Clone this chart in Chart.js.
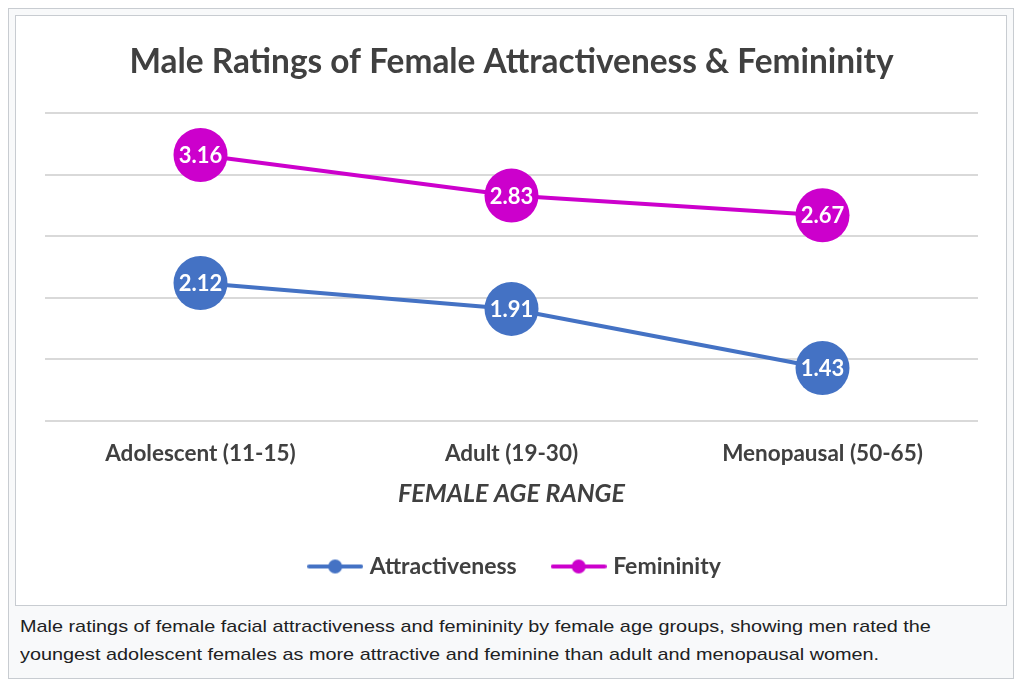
<!DOCTYPE html>
<html>
<head>
<meta charset="utf-8">
<script src="https://cdn.jsdelivr.net/npm/chart.js@4"></script>
<style>
    body { margin: 0; background: #ffffff; }
    #frame {
        position: absolute; left: 8px; top: 8px;
        width: 1004px; height: 669px;
        border: 1px solid #c8ccd1; background: #f8f9fa;
    }
    #box {
        position: absolute; left: 6px; top: 6px;
        width: 990px; height: 589px;
        border: 1px solid #c8ccd1; background: #ffffff;
    }
    #caption {
        position: absolute; left: 11px; top: 604px; width: 815px;
        font-family: "Liberation Sans", Arial, sans-serif;
        font-size: 17px; line-height: 28px; color: #202122;
        transform: scaleX(1.167); transform-origin: left top;
    }
</style>
</head>
<body>
<div id="frame">
    <div id="box"><canvas id="chart" width="990" height="589"></canvas></div>
    <div id="caption">Male ratings of female facial attractiveness and femininity by female age groups, showing men rated the youngest adolescent females as more attractive and feminine than adult and menopausal women.</div>
</div>
<script>
const ageGroups = ['Adolescent (11-15)', 'Adult (19-30)', 'Menopausal (50-65)'];
const attractiveness = [2.12, 1.91, 1.43];
const femininity = [3.16, 2.83, 2.67];

const blue = '#4472c4';
const magenta = '#cc00cc';
const textColor = '#404040';
const fontFamily = 'Lato, "Open Sans", sans-serif';

// legend marker: a short line with a dot in the middle
function legendMarker(color) {
    const c = document.createElement('canvas');
    c.width = 56;
    c.height = 16;
    const g = c.getContext('2d');
    g.strokeStyle = color;
    g.lineWidth = 4;
    g.lineCap = 'round';
    g.beginPath();
    g.moveTo(2, 8);
    g.lineTo(54, 8);
    g.stroke();
    g.fillStyle = color;
    g.beginPath();
    g.arc(28, 8, 7, 0, Math.PI * 2);
    g.fill();
    return c;
}

const valueLabels = {
    id: 'valueLabels',
    afterDatasetsDraw(chart) {
        const ctx = chart.ctx;
        ctx.save();
        ctx.fillStyle = '#ffffff';
        ctx.font = 'bold 22px ' + fontFamily;
        ctx.textAlign = 'center';
        ctx.textBaseline = 'middle';
        chart.data.datasets.forEach((ds, i) => {
            chart.getDatasetMeta(i).data.forEach((pt, j) => {
                ctx.fillText(ds.data[j].toFixed(2), pt.x, pt.y + 1);
            });
        });
        ctx.restore();
    }
};

// nudge the legend a little to the right, like the original
const legendShift = {
    id: 'legendShift',
    afterLayout(chart) {
        chart.legend.left += 5;
        chart.legend.right += 5;
    }
};

new Chart(document.getElementById('chart'), {
    type: 'line',
    data: {
        labels: ageGroups,
        datasets: [
            {
                label: 'Attractiveness',
                data: attractiveness,
                borderColor: blue,
                backgroundColor: blue,
                pointBackgroundColor: blue,
                borderWidth: 4,
                pointRadius: 27,
                pointHoverRadius: 27,
                pointBorderWidth: 0,
                clip: false
            },
            {
                label: 'Femininity',
                data: femininity,
                borderColor: magenta,
                backgroundColor: magenta,
                pointBackgroundColor: magenta,
                borderWidth: 4,
                pointRadius: 27,
                pointHoverRadius: 27,
                pointBorderWidth: 0,
                clip: false
            }
        ]
    },
    options: {
        responsive: false,
        animation: false,
        layout: { padding: { left: 29, right: 28, top: 26, bottom: 17 } },
        plugins: {
            title: {
                display: true,
                text: 'Male Ratings of Female Attractiveness & Femininity',
                color: textColor,
                font: { family: fontFamily, size: 33.4, weight: 'bold' },
                padding: { top: 0, bottom: 31 }
            },
            legend: {
                position: 'bottom',
                labels: {
                    usePointStyle: true,
                    pointStyleWidth: 46,
                    padding: 39,
                    color: textColor,
                    font: { family: fontFamily, size: 23, weight: 'bold' },
                    generateLabels(chart) {
                        return Chart.defaults.plugins.legend.labels.generateLabels(chart).map((item, i) => {
                            item.pointStyle = legendMarker(chart.data.datasets[i].borderColor);
                            return item;
                        });
                    }
                }
            },
            tooltip: { enabled: false }
        },
        scales: {
            x: {
                offset: true,
                grid: { display: false },
                border: { display: false },
                ticks: {
                    color: textColor,
                    font: { family: fontFamily, size: 22.5, weight: 'bold' },
                    padding: 11
                },
                title: {
                    display: true,
                    text: 'FEMALE AGE RANGE',
                    color: textColor,
                    font: { family: fontFamily, size: 25, weight: 'bold', style: 'italic' },
                    padding: { top: 1, bottom: 7 }
                }
            },
            y: {
                min: 1,
                max: 3.5,
                ticks: { display: false, stepSize: 0.5 },
                border: { display: false },
                grid: { color: '#d9d9d9', lineWidth: 2, drawTicks: false },
                afterFit(scale) { scale.width = 0; }
            }
        }
    },
    plugins: [valueLabels, legendShift]
});
</script>
</body>
</html>
